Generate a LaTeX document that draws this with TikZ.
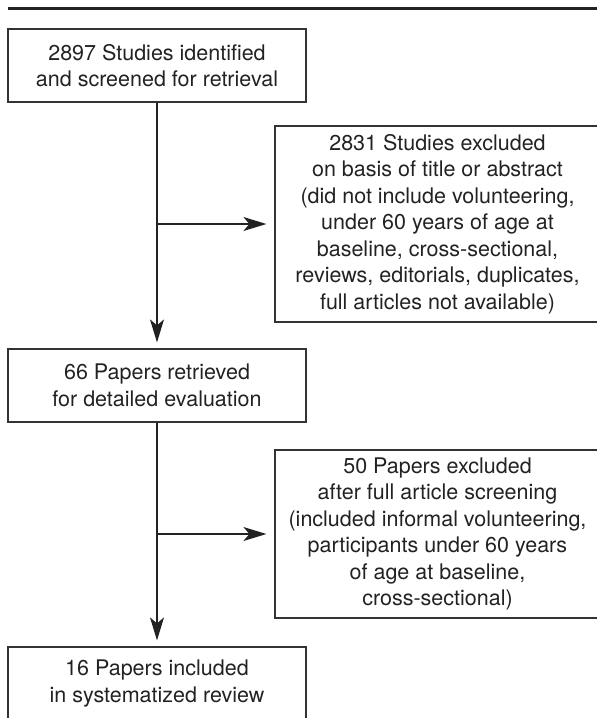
\documentclass[tikz,border=0pt]{standalone}
\usepackage{fontspec}
\setmainfont{TeX Gyre Heros}
\usetikzlibrary{arrows.meta}
\definecolor{linegray}{HTML}{333333}
\definecolor{textgray}{HTML}{222222}
\tikzset{
  box/.style={draw=linegray, line width=1.2pt, inner sep=0pt, align=center,
    text=textgray, font=\fontsize{21.5}{26.5}\selectfont},
  narrowbox/.style={box, minimum width=298pt},
  widebox/.style={box, minimum width=325pt},
  flow/.style={draw=textgray, line width=1.2pt,
    -{Stealth[length=23pt,width=14pt,inset=6pt]}},
}
\begin{document}
\begin{tikzpicture}[x=1pt,y=-1pt]
\path[use as bounding box] (0,0) rectangle (597,718);
\clip (0,0) rectangle (597,718);
\draw[textgray, line width=2.5pt] (8,8.3) -- (597,8.3);

\node[narrowbox, minimum height=73pt] (b1) at (157,65.5)
  {2897 Studies identified\\and screened for retrieval};
\node[widebox, minimum height=196pt] (b2) at (437.5,224)
  {2831 Studies excluded\\on basis of title or abstract\\(did not include volunteering,\\under 60 years of age at\\baseline, cross-sectional,\\reviews, editorials, duplicates,\\full articles not available)};
\node[narrowbox, minimum height=73pt] (b3) at (157,385.5)
  {66 Papers retrieved\\for detailed evaluation};
\node[widebox, minimum height=168pt] (b4) at (437.5,534)
  {50 Papers excluded\\after full article screening\\(included informal volunteering,\\participants under 60 years\\of age at baseline,\\cross-sectional)};
\node[narrowbox, minimum height=73pt] (b5) at (157,683.5)
  {16 Papers included\\in systematized review};

\coordinate (j1) at (b1.south |- b2.west);
\coordinate (j2) at (b3.south |- b4.west);

\draw[flow, shorten >=6pt] (b1.south) -- (b3.north);
\draw[flow, shorten >=6pt] (b3.south) -- (b5.north);
\draw[flow, shorten >=8pt] (j1) -- (b2.west);
\draw[flow, shorten >=8pt] (j2) -- (b4.west);
\end{tikzpicture}
\end{document}
